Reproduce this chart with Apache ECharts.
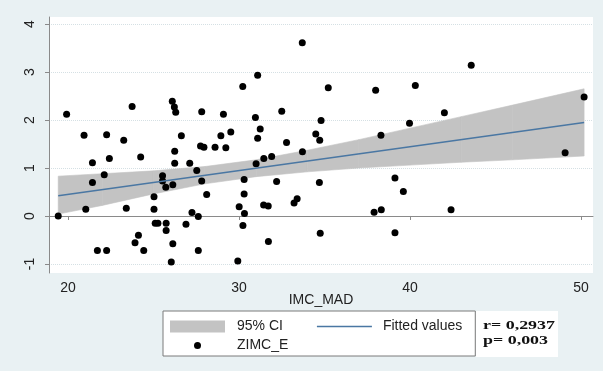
<!DOCTYPE html>
<html>
<head>
<meta charset="UTF-8">
<title>ZIMC_E vs IMC_MAD</title>
<script src="https://cdn.jsdelivr.net/npm/echarts@6/dist/echarts.min.js"></script>
<style>
  html, body { margin: 0; padding: 0; background: #e9f1f3; }
  #chart { width: 603px; height: 371px; }
</style>
</head>
<body>
<div id="chart"></div>
<script type="text/javascript">
	// scatter points
	var imcMad = [19.43,19.92,20.94,21.43,21.43,21.04,22.12,22.26,22.42,21.72,22.26,23.26,23.75,23.41,24.25,24.12,23.92,24.43,
		25.03,25.03,25.10,25.26,25.53,25.53,25.72,26.13,25.74,25.74,26.13,26.04,26.10,26.22,26.30,26.24,26.24,26.63,26.90,27.12,
		27.25,27.53,27.62,27.62,27.82,27.75,27.95,27.82,28.11,28.60,28.94,29.09,29.23,29.52,29.93,30.01,30.22,30.30,30.30,30.32,
		30.23,31.09,30.96,31.24,31.09,31.00,31.45,31.91,31.44,31.71,31.72,32.20,32.50,32.78,33.22,33.40,33.70,35.22,33.71,34.80,
		34.49,34.72,34.70,34.75,37.99,38.30,37.90,38.32,39.12,39.61,39.12,39.97,40.31,42.01,42.40,43.58,49.07,50.18];
	var zimcE = [0.00,2.12,1.68,1.11,0.70,0.14,0.86,1.69,1.20,-0.72,-0.72,1.58,2.28,0.16,1.23,-0.40,-0.56,-0.72,
		0.40,0.14,-0.15,-0.15,0.84,0.73,0.60,0.65,-0.15,-0.30,-0.58,-0.96,2.39,2.27,2.16,1.35,1.10,1.67,-0.17,1.10,
		0.07,0.95,-0.01,-0.72,2.17,1.46,1.43,0.73,0.45,1.43,1.67,2.12,1.42,1.75,-0.94,0.19,2.70,0.76,0.46,0.05,
		-0.20,2.93,2.05,1.81,1.62,1.09,1.20,1.24,0.23,0.21,-0.53,0.72,2.18,1.53,0.27,0.36,3.61,2.67,1.34,1.99,
		1.71,1.58,0.70,-0.36,2.62,1.68,0.08,0.13,0.79,0.51,-0.35,1.93,2.72,2.15,0.13,3.14,1.32,2.48];
	// fitted values (ends of the line)
	var fitX = [19.43, 50.18];
	var fitY = [0.42, 1.95];
	// 95% CI band
	var ciX = [19.43, 22, 25, 28, 31, 34, 37, 40, 43, 46, 50.18];
	var ciLow = [0.04, 0.22, 0.46, 0.67, 0.82, 0.92, 1.00, 1.06, 1.12, 1.17, 1.25];
	var ciHigh = [0.83, 0.88, 0.94, 1.03, 1.17, 1.37, 1.59, 1.83, 2.07, 2.31, 2.65];
	// axis ticks
	var xTicks = [20, 30, 40, 50];
	var yTicks = [-1, 0, 1, 2, 3, 4];

	var scatterData = [];
	for (var i = 0; i < imcMad.length; i++) {
		scatterData.push([imcMad[i], zimcE[i]]);
	}
	// one band piece per pair of neighbouring x values
	var bandData = [];
	for (var j = 0; j < ciX.length - 1; j++) {
		bandData.push([ciX[j], ciLow[j], ciHigh[j], ciX[j + 1], ciLow[j + 1], ciHigh[j + 1]]);
	}
	var fitData = [[fitX[0], fitY[0]], [fitX[1], fitY[1]]];

	var font = "'Liberation Sans', Arial, sans-serif";
	var axisColor = '#8a8a8a';
	var bandColor = '#c3c3c3';
	var fitColor = '#4a77a3';

	function renderBand(params, api) {
		var a = api.coord([api.value(0), api.value(2)]);
		var b = api.coord([api.value(3), api.value(5)]);
		var c = api.coord([api.value(3), api.value(4)]);
		var d = api.coord([api.value(0), api.value(1)]);
		return {
			type: 'polygon',
			shape: { points: [a, b, c, d] },
			style: { fill: bandColor, stroke: bandColor, lineWidth: 0.6 }
		};
	}

	var chart = echarts.init(document.getElementById('chart'));
	var option = {
		animation: false,
		backgroundColor: '#e9f1f3',
		textStyle: { fontFamily: font },
		grid: {
			left: 49, top: 17, right: 10, bottom: 98,
			show: true, backgroundColor: '#ffffff', borderWidth: 0,
			outerBoundsMode: 'none'
		},
		xAxis: {
			type: 'value', min: 18.89, max: 50.7,
			name: 'IMC_MAD', nameLocation: 'middle', nameGap: 20, nameMoveOverlap: false,
			nameTextStyle: { fontSize: 14, color: '#222', fontFamily: font },
			axisLine: { show: true, lineStyle: { color: axisColor, width: 1 } },
			axisTick: { show: true, length: 4, customValues: xTicks, lineStyle: { color: axisColor } },
			axisLabel: { customValues: xTicks, margin: 8, fontSize: 14, color: '#222', fontFamily: font },
			splitLine: { show: false }
		},
		yAxis: {
			type: 'value', min: -1.188, max: 4.146,
			axisLine: { show: true, lineStyle: { color: axisColor, width: 1 } },
			axisTick: { show: true, length: 4, customValues: yTicks, lineStyle: { color: axisColor } },
			axisLabel: { customValues: yTicks, rotate: 90, margin: 12, fontSize: 14, color: '#222', fontFamily: font },
			splitLine: { show: true, lineStyle: { color: '#d5e0e4', type: 'dotted', width: 1 } }
		},
		legend: {
			left: 163, top: 311, width: 310,
			orient: 'horizontal',
			padding: [7.5, 13, 2.5, 7],
			itemGap: 3, itemWidth: 55, itemHeight: 12,
			backgroundColor: '#ffffff', borderColor: '#7a7a7a', borderWidth: 1, borderRadius: 0,
			selectedMode: false,
			textStyle: { fontSize: 14, color: '#222', fontFamily: font, lineHeight: 16 },
			data: [
				{ name: '95% CI', icon: 'rect', itemStyle: { color: bandColor },
				  textStyle: { padding: [0, 31, 0, 7] } },
				{ name: 'Fitted values', icon: 'path://M0,0M55,12M0,5.3L55,5.3L55,6.7L0,6.7Z',
				  itemStyle: { color: fitColor }, textStyle: { padding: [0, 0, 0, 6] } },
				{ name: 'ZIMC_E', icon: 'path://M0,0M55,12M24,6A3.5,3.5,0,1,0,31,6A3.5,3.5,0,1,0,24,6Z',
				  itemStyle: { color: '#000' }, textStyle: { padding: [0, 0, 0, 7] } }
			]
		},
		graphic: [{
			type: 'group', left: 476, top: 311,
			children: [
				{ type: 'rect', shape: { x: 0, y: 0, width: 82, height: 46 }, style: { fill: '#ffffff' } },
				{ type: 'text', x: 7, y: 15, scaleX: 1.38,
				  style: { text: 'r= 0,2937', fill: '#111', font: "bold 13px 'Liberation Serif', 'Times New Roman', serif", verticalAlign: 'middle' } },
				{ type: 'text', x: 7, y: 30, scaleX: 1.38,
				  style: { text: 'p= 0,003', fill: '#111', font: "bold 13px 'Liberation Serif', 'Times New Roman', serif", verticalAlign: 'middle' } }
			]
		}],
		series: [{
			name: '95% CI', type: 'custom', data: bandData,
			renderItem: renderBand, clip: true, silent: true,
			itemStyle: { color: bandColor },
			encode: { x: [0, 3], y: [1, 2, 4, 5] }
		}, {
			name: 'Fitted values', type: 'line', data: fitData,
			symbol: 'none', itemStyle: { color: fitColor },
			lineStyle: { color: fitColor, width: 1.5 }
		}, {
			name: 'ZIMC_E', type: 'scatter', data: scatterData,
			symbol: 'circle', symbolSize: 7, itemStyle: { color: '#000', opacity: 1 }
		}]
	};
	chart.setOption(option);
</script>
</body>
</html>
